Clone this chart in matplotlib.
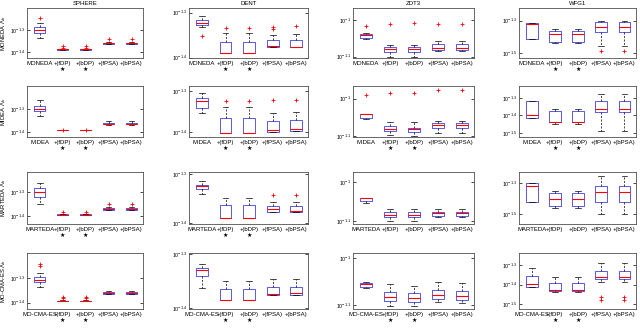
import numpy as np
import matplotlib
matplotlib.use('Agg')
import matplotlib.pyplot as plt

plt.rcParams['font.family'] = ['Liberation Sans', 'DejaVu Sans']
plt.rcParams['mathtext.fontset'] = 'custom'
plt.rcParams['mathtext.rm'] = 'Liberation Sans'
plt.rcParams['mathtext.it'] = 'Liberation Sans:italic'

problems = ['SPHERE', 'DENT', 'ZDT3', 'WFG1']
algs = ['MONEDA', 'MIDEA', 'MARTEDA', 'MO-CMA-ES']
variants = ['+(fDP)', '+(bDP)', '+(fPSA)', '+(bPSA)']

# box stats in log10 units: (whislo, q1, med, q3, whishi)
sphere_moneda = [(-1.338, -1.315, -1.300, -1.288, -1.270), (-1.390, -1.389, -1.388, -1.387, -1.386),
                 (-1.390, -1.389, -1.388, -1.387, -1.386), (-1.363, -1.362, -1.360, -1.357, -1.353),
                 (-1.363, -1.362, -1.360, -1.357, -1.353)]
sphere_moneda_out = [[-1.244], [-1.373, -1.380], [-1.373, -1.380], [-1.342], [-1.342]]
dent_moneda = [(-1.3316, -1.3284, -1.3227, -1.3167, -1.3078), (-1.3893, -1.3893, -1.3890, -1.3662, -1.3462),
               (-1.3893, -1.3893, -1.3890, -1.3662, -1.3462), (-1.3773, -1.3773, -1.3744, -1.3611, -1.350),
               (-1.3773, -1.3773, -1.376, -1.3611, -1.3484)]
dent_moneda_out = [[-1.3522], [-1.3351], [-1.3351], [-1.3329, -1.3373], [-1.330]]
zdt3_moneda = [(-1.0518, -1.0499, -1.0417, -1.0381, -1.0362), (-1.100, -1.088, -1.0798, -1.0744, -1.0681),
               (-1.100, -1.088, -1.0798, -1.0744, -1.0681), (-1.0845, -1.0817, -1.0755, -1.0662, -1.0564),
               (-1.0845, -1.0817, -1.0755, -1.0662, -1.0564)]
zdt3_moneda_out = [[-1.0163], [-1.0109], [-1.0074], [-1.0109], [-1.0109]]
wfg1_moneda = [(-1.4123, -1.4123, -1.318, -1.316, -1.316), (-1.435, -1.4288, -1.3816, -1.3613, -1.3528),
               (-1.435, -1.4288, -1.3816, -1.3613, -1.3528), (-1.4534, -1.3712, -1.3405, -1.3098, -1.300),
               (-1.4534, -1.3712, -1.3405, -1.3098, -1.300)]
wfg1_moneda_out = [[], [], [], [-1.484], [-1.484]]

sphere_midea = [(-1.332, -1.311, -1.300, -1.286, -1.2625), (-1.3910, -1.3906, -1.3904, -1.3902, -1.3898),
                (-1.3910, -1.3906, -1.3904, -1.3902, -1.3898), (-1.3667, -1.3660, -1.3633, -1.3600, -1.3529),
                (-1.3667, -1.3660, -1.3633, -1.3600, -1.3529)]
sphere_midea_out = [[], [-1.3904], [-1.3904], [], []]
dent_midea = [(-1.3548, -1.3405, -1.3238, -1.3167, -1.3048), (-1.4024, -1.4024, -1.4020, -1.3667, -1.3381),
              (-1.4024, -1.4024, -1.4020, -1.3667, -1.3381), (-1.400, -1.400, -1.3952, -1.3738, -1.3548),
              (-1.3976, -1.3976, -1.3929, -1.3714, -1.3524)]
dent_midea_out = [[], [-1.3238], [-1.3238], [-1.3214], [-1.3214]]
zdt3_midea = [(-1.053, -1.0523, -1.0416, -1.0398, -1.0398), (-1.0966, -1.0859, -1.0796, -1.0727, -1.0621),
              (-1.0987, -1.0875, -1.0814, -1.0769, -1.0621), (-1.0902, -1.0788, -1.0708, -1.0637, -1.0594),
              (-1.0902, -1.0788, -1.0708, -1.0637, -1.0594)]
zdt3_midea_out = [[-0.9912], [-0.9859], [-0.9859], [-0.9772], [-0.9772]]
wfg1_midea = [(-1.4135, -1.4135, -1.400, -1.3159, -1.3159), (-1.4471, -1.4371, -1.4371, -1.3747, -1.3606),
              (-1.4471, -1.4371, -1.4371, -1.3747, -1.3606), (-1.4865, -1.3806, -1.3606, -1.3194, -1.2765),
              (-1.4865, -1.3806, -1.3606, -1.3194, -1.2765)]
wfg1_midea_out = [[], [], [], [], []]

sphere_marteda = [(-1.350, -1.3208, -1.300, -1.2833, -1.2625), (-1.3945, -1.3942, -1.3938, -1.3935, -1.3930),
                  (-1.3945, -1.3942, -1.3938, -1.3935, -1.3930), (-1.375, -1.373, -1.371, -1.3667, -1.3625),
                  (-1.375, -1.373, -1.371, -1.3667, -1.3625)]
sphere_marteda_out = [[], [-1.3833], [-1.3833], [-1.352], [-1.352]]
dent_marteda = [(-1.3396, -1.3308, -1.3246, -1.3211, -1.3138), (-1.3889, -1.3889, -1.3885, -1.3622, -1.3478),
                (-1.3889, -1.3889, -1.3885, -1.3622, -1.3478), (-1.376, -1.376, -1.3704, -1.3637, -1.3569),
                (-1.376, -1.376, -1.3739, -1.3637, -1.3569)]
dent_marteda_out = [[], [], [], [-1.3431], [-1.3431]]
zdt3_marteda = [(-1.0533, -1.0475, -1.041, -1.0406, -1.0406), (-1.100, -1.0914, -1.0848, -1.0772, -1.0703),
                (-1.100, -1.0914, -1.0848, -1.0772, -1.0703), (-1.0914, -1.0873, -1.0805, -1.0761, -1.0685),
                (-1.0914, -1.0873, -1.0805, -1.0761, -1.0685)]
zdt3_marteda_out = [[], [], [], [], []]
wfg1_marteda = [(-1.425, -1.425, -1.3188, -1.300, -1.300), (-1.4625, -1.450, -1.4063, -1.3625, -1.350),
                (-1.4625, -1.450, -1.4063, -1.3625, -1.350), (-1.500, -1.425, -1.3563, -1.3188, -1.2563),
                (-1.500, -1.425, -1.3563, -1.3188, -1.2563)]
wfg1_marteda_out = [[], [], [], [], []]

sphere_mocma = [(-1.3369, -1.3164, -1.307, -1.2959, -1.277), (-1.3930, -1.3925, -1.3918, -1.3912, -1.3905),
                (-1.3930, -1.3925, -1.3918, -1.3912, -1.3905), (-1.3656, -1.3643, -1.3602, -1.3549, -1.352),
                (-1.3656, -1.3643, -1.3602, -1.3549, -1.352)]
sphere_mocma_out = [[-1.2414, -1.2525], [-1.3754, -1.382], [-1.3754, -1.382], [], []]
dent_mocma = [(-1.3628, -1.340, -1.330, -1.3251, -1.318), (-1.3856, -1.3856, -1.3852, -1.3646, -1.3508),
              (-1.3856, -1.3856, -1.3852, -1.3646, -1.3508), (-1.3759, -1.3759, -1.3749, -1.361, -1.3467),
              (-1.3759, -1.3759, -1.3718, -1.3616, -1.3467)]
dent_mocma_out = [[], [], [], [], []]
zdt3_mocma = [(-1.0638, -1.0617, -1.0553, -1.0532, -1.0511), (-1.1021, -1.0915, -1.083, -1.0723, -1.0553),
              (-1.1021, -1.0936, -1.0851, -1.0745, -1.0596), (-1.0936, -1.0872, -1.0787, -1.0681, -1.0511),
              (-1.0957, -1.0894, -1.0809, -1.0702, -1.0532)]
zdt3_mocma_out = [[], [], [], [], []]
wfg1_mocma = [(-1.4099, -1.4099, -1.3985, -1.3557, -1.3163), (-1.4379, -1.4315, -1.4266, -1.3936, -1.3606),
              (-1.4379, -1.4315, -1.4266, -1.3936, -1.3606), (-1.3852, -1.3724, -1.3606, -1.3281, -1.2901),
              (-1.3852, -1.3724, -1.3606, -1.3281, -1.2901)]
wfg1_mocma_out = [[], [], [], [-1.464, -1.4808], [-1.464, -1.4808]]

stats = [[sphere_moneda, dent_moneda, zdt3_moneda, wfg1_moneda],
         [sphere_midea, dent_midea, zdt3_midea, wfg1_midea],
         [sphere_marteda, dent_marteda, zdt3_marteda, wfg1_marteda],
         [sphere_mocma, dent_mocma, zdt3_mocma, wfg1_mocma]]
outs = [[sphere_moneda_out, dent_moneda_out, zdt3_moneda_out, wfg1_moneda_out],
        [sphere_midea_out, dent_midea_out, zdt3_midea_out, wfg1_midea_out],
        [sphere_marteda_out, dent_marteda_out, zdt3_marteda_out, wfg1_marteda_out],
        [sphere_mocma_out, dent_mocma_out, zdt3_mocma_out, wfg1_mocma_out]]

# y limits (log10) and tick exponents
ylims = [[(-1.427, -1.2), (-1.401, -1.290), (-1.1035, -0.967), (-1.529, -1.222)],
         [(-1.4196, -1.203), (-1.412, -1.288), (-1.102, -0.9666), (-1.5235, -1.2312)],
         [(-1.4333, -1.2167), (-1.4012, -1.2953), (-1.1084, -0.9731), (-1.5625, -1.2313)],
         [(-1.4258, -1.1975), (-1.4018, -1.2982), (-1.1085, -0.9894), (-1.5251, -1.2374)]]
yticks = [[[-1.4, -1.3], [-1.4, -1.3], [-1.1, -1], [-1.5, -1.3]],
          [[-1.4, -1.3], [-1.4, -1.3], [-1.1, -1], [-1.5, -1.4, -1.3]],
          [[-1.4, -1.3], [-1.4, -1.3], [-1.1, -1], [-1.5, -1.3]],
          [[-1.4, -1.3], [-1.4, -1.3], [-1.1, -1], [-1.5, -1.4, -1.3]]]
# significance star under +(fDP) and +(bDP)
stars = [[1, 1, 0, 1], [1, 1, 1, 1], [1, 1, 0, 0], [1, 1, 1, 1]]

W, H = 640, 328
lefts = [27, 189, 353, 519]
widths = [116, 119, 121, 117]
tops = [8, 86, 172, 253]
bottoms = [58, 137, 224, 309]

fig = plt.figure(figsize=(6.4, 3.28), dpi=100)
fs = 4.3
for r in range(4):
    for c in range(4):
        ax = fig.add_axes([lefts[c] / W, 1 - bottoms[r] / H, widths[c] / W, (bottoms[r] - tops[r]) / H])
        bx = []
        for k in range(5):
            lo, q1, med, q3, hi = stats[r][c][k]
            bx.append(dict(whislo=10 ** lo, q1=10 ** q1, med=10 ** med, q3=10 ** q3, whishi=10 ** hi,
                           fliers=10 ** np.array(outs[r][c][k], dtype=float)))
        ax.bxp(bx, positions=range(1, 6), widths=0.5, capwidths=0.25,
               boxprops=dict(color='#5a5ae6', lw=0.7),
               medianprops=dict(color='red', lw=0.8),
               whiskerprops=dict(color='black', lw=0.5, linestyle=(0, (3, 2))),
               capprops=dict(color='black', lw=0.5),
               flierprops=dict(marker='+', markeredgecolor='red', markersize=3.5, mew=0.6))
        ax.set_yscale('log')
        ax.minorticks_off()
        lo, hi = ylims[r][c]
        ax.set_ylim(10 ** lo, 10 ** hi)
        ax.set_xlim(0.45, 5.5)
        ax.set_yticks([10 ** t for t in yticks[r][c]])
        ax.set_yticklabels(['$10^{%g}$' % t for t in yticks[r][c]], fontsize=3.8)
        star = '\n\u2605' if stars[r][c] else ''
        labels = [algs[r], variants[0] + star, variants[1] + star, variants[2], variants[3]]
        ax.set_xticks(range(1, 6))
        ax.set_xticklabels(labels, fontsize=fs, va='top', linespacing=1.3)
        ax.tick_params(axis='x', length=0, pad=2)
        ax.tick_params(axis='y', direction='in', right=True, length=2, width=0.5, pad=1.5)
        for s in ax.spines.values():
            s.set_linewidth(0.6)
            s.set_color('#505050')
        if r == 0:
            ax.set_title(problems[c], fontsize=fs, pad=2)
        if c == 0:
            ax.set_ylabel(algs[r] + ' $\\Lambda_h$', fontsize=4.2)
            ax.yaxis.set_label_coords(-0.162, 0.5)

fig.savefig('out.png', dpi=100)
